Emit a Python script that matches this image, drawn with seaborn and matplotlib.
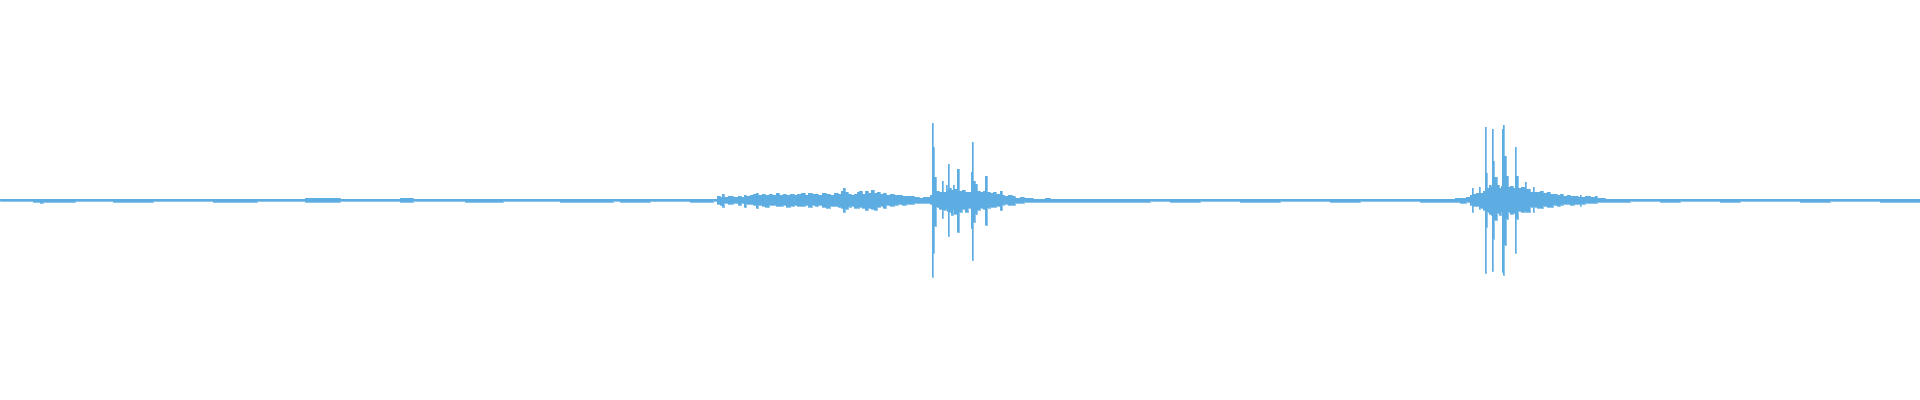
import numpy as np
import matplotlib
matplotlib.use("Agg")
import matplotlib.pyplot as plt
import seaborn as sns

# ====== Waveform envelope ======
# each row: (sample column, peak above zero, peak below zero), peaks in % of full scale
quiet_start = [
    (0, 0.5, 0.5), (33, 0.75, 0.75), (40, 0.75, 1.25), (43, 0.75, 0.75), (75, 0.5, 0.5),
    (113, 0.75, 0.75), (153, 0.5, 0.5), (213, 0.75, 0.75), (257, 0.5, 0.5),
    (305, 1.0, 1.0), (340, 0.5, 0.5), (400, 1.0, 1.0), (413, 0.5, 0.5),
    (465, 0.75, 0.75), (503, 0.5, 0.5), (560, 0.75, 0.75), (613, 0.5, 0.5),
    (620, 0.75, 0.75), (650, 0.5, 0.5), (690, 0.75, 0.75), (713, 0.5, 0.5),
]

rumble = [
    (717, 2.0, 2.0), (720, 1.5, 2.5), (722, 3.0, 3.5), (724, 1.5, 1.5), (728, 2.0, 2.0),
    (733, 1.5, 1.5), (738, 2.0, 2.5), (741, 1.5, 1.5), (744, 2.5, 3.5), (746, 2.0, 2.0),
    (750, 2.5, 2.0), (753, 3.0, 2.5), (756, 3.5, 4.0), (758, 2.5, 2.5), (762, 3.0, 3.0),
    (765, 2.5, 3.5), (769, 3.0, 2.5), (772, 2.5, 2.5), (776, 3.5, 3.0), (779, 2.5, 3.0),
    (783, 3.0, 2.5), (786, 2.5, 3.5), (790, 3.0, 3.0), (794, 2.5, 2.5), (797, 3.0, 3.0),
    (801, 3.5, 3.0), (805, 2.5, 2.5), (808, 3.5, 3.5), (812, 3.0, 2.5), (815, 3.0, 3.0),
    (818, 2.5, 2.5), (822, 3.5, 3.5), (826, 3.0, 4.0), (830, 2.5, 3.0), (834, 3.5, 3.0),
    (838, 3.0, 3.5), (841, 4.5, 4.0), (843, 6.0, 6.0), (845, 4.0, 4.5), (848, 3.0, 3.5),
    (851, 2.5, 3.0), (854, 3.0, 4.0), (857, 4.0, 4.0), (859, 4.5, 3.5), (862, 3.0, 4.0),
    (865, 4.5, 5.0), (868, 3.5, 4.0), (871, 5.0, 4.5), (874, 3.5, 5.0), (877, 4.0, 3.5),
    (880, 3.0, 3.0), (883, 3.5, 4.0), (886, 2.5, 2.5), (890, 3.0, 3.0), (894, 2.5, 2.5),
    (898, 2.5, 2.0), (902, 2.0, 2.5), (906, 2.0, 2.0), (910, 2.0, 2.0), (914, 1.5, 1.5),
    (919, 1.0, 1.5), (923, 1.5, 1.5), (927, 1.5, 1.5), (930, 2.5, 2.0),
]

burst_one = [
    (932, 38.5, 38.5), (933, 26.75, 26.25), (934, 11.75, 12.75), (936, 4.5, 3.5),
    (939, 4.0, 4.5), (942, 9.5, 9.0), (943, 4.0, 5.0), (946, 7.5, 4.5), (947, 4.5, 5.5),
    (948, 18.25, 18.0), (949, 6.0, 6.0), (951, 5.0, 7.5), (953, 7.5, 5.0), (954, 5.5, 7.0),
    (957, 15.75, 16.0), (959, 4.5, 6.0), (962, 5.0, 4.5), (965, 4.0, 6.0), (968, 4.0, 4.0),
    (971, 14.0, 14.0), (972, 29.25, 29.75), (973, 9.75, 11.0), (975, 8.0, 7.0),
    (977, 4.5, 5.0), (980, 4.0, 4.0), (983, 4.5, 4.5), (985, 12.25, 12.5), (987, 4.0, 4.0),
    (990, 3.5, 3.5), (993, 4.0, 3.5), (996, 3.0, 3.0), (1000, 4.75, 5.0), (1002, 2.5, 2.5),
]

tail_one = [
    (1004, 2.0, 2.0), (1008, 2.5, 2.25), (1012, 2.0, 2.5), (1015, 1.25, 1.25),
    (1020, 1.5, 1.5), (1024, 1.0, 1.0), (1033, 0.75, 0.75), (1045, 1.0, 1.0),
    (1050, 0.75, 0.75), (1060, 0.5, 0.75), (1100, 0.75, 0.75), (1150, 0.5, 0.5),
    (1170, 0.75, 0.75), (1200, 0.5, 0.5), (1240, 0.75, 0.75), (1280, 0.5, 0.5),
    (1330, 0.75, 0.75), (1360, 0.5, 0.5), (1420, 0.75, 0.75), (1440, 0.5, 0.75),
    (1455, 1.0, 1.0), (1460, 1.25, 1.25), (1466, 1.5, 1.0), (1470, 2.5, 2.5),
]

burst_two = [
    (1472, 6.0, 6.0), (1473, 3.0, 3.0), (1476, 3.5, 3.0), (1479, 6.5, 4.5), (1480, 3.5, 4.0),
    (1483, 4.5, 5.0), (1485, 36.75, 36.5), (1486, 13.5, 13.5), (1487, 6.0, 6.0),
    (1489, 7.5, 7.0), (1491, 6.5, 7.5), (1492, 35.75, 35.5), (1493, 19.75, 19.5),
    (1494, 11.5, 10.0), (1497, 7.5, 6.5), (1499, 6.0, 7.5), (1501, 7.0, 6.0),
    (1502, 35.75, 35.75), (1503, 37.75, 37.5), (1504, 22.25, 22.5), (1506, 12.25, 9.5),
    (1508, 6.5, 6.0), (1510, 7.0, 7.0), (1513, 6.0, 6.5), (1515, 26.4, 26.5),
    (1516, 12.25, 9.5), (1518, 6.0, 5.5), (1521, 6.5, 6.0), (1525, 9.0, 5.5),
    (1526, 5.5, 6.0), (1530, 4.0, 3.5), (1533, 6.5, 6.0), (1534, 4.0, 3.5),
]

tail_two = [
    (1537, 4.0, 4.0), (1540, 4.75, 4.0), (1543, 3.5, 3.0), (1547, 4.0, 3.5), (1550, 3.0, 3.5),
    (1553, 3.0, 2.5), (1557, 2.5, 3.0), (1560, 3.0, 2.5), (1563, 2.0, 2.0), (1567, 2.5, 2.0),
    (1570, 2.0, 2.5), (1574, 2.0, 2.0), (1578, 1.75, 1.75), (1580, 2.75, 2.75),
    (1581, 1.5, 1.75), (1585, 2.0, 1.5), (1590, 1.5, 1.5), (1595, 2.25, 1.5),
    (1597, 1.0, 1.0), (1605, 0.75, 1.0), (1615, 0.75, 0.75), (1630, 0.5, 0.5),
    (1660, 0.75, 0.75), (1680, 0.5, 0.5), (1720, 0.75, 0.75), (1740, 0.5, 0.5),
    (1800, 0.75, 0.75), (1830, 0.5, 0.5), (1880, 0.75, 0.75), (1920, 0.5, 0.5),
]

wave_color = "#5DADE2"

rows = np.array(quiet_start + rumble + burst_one + tail_one + burst_two + tail_two)
t = rows[:, 0]
upper = rows[:, 1]
lower = -rows[:, 2]

# ====== Plot ======
sns.set_style("white")
fig = plt.figure(figsize=(19.2, 4), dpi=100)
ax = fig.add_axes([0, 0, 1, 1])

ax.fill_between(t, lower, upper, step="post", color=wave_color, linewidth=0)
sns.lineplot(x=t, y=upper, ax=ax, color=wave_color, lw=0.5,
             drawstyle="steps-post", estimator=None, sort=False)
sns.lineplot(x=t, y=lower, ax=ax, color=wave_color, lw=0.5,
             drawstyle="steps-post", estimator=None, sort=False)

ax.set_xlim(0, 1920)
ax.set_ylim(-100, 100)
ax.axis("off")

fig.savefig("out.png", dpi=100, facecolor="white")
